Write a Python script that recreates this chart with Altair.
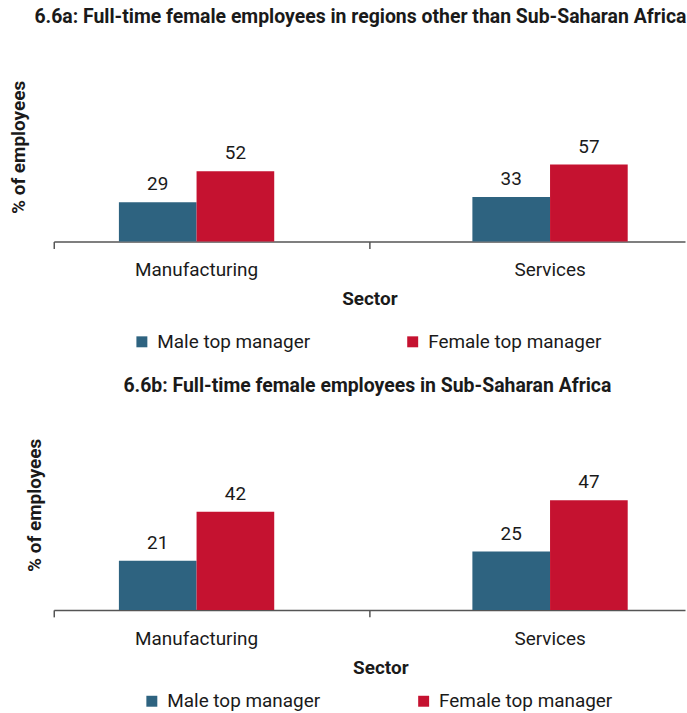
import altair as alt
import pandas as pd

# ---- data ----
sectors = ["Manufacturing", "Services"]
managers = ["Male top manager", "Female top manager"]
# order: Manufacturing-Male, Manufacturing-Female, Services-Male, Services-Female
values_a = [29, 52, 33, 57]
values_b = [21, 42, 25, 47]
colors = ["#2e6380", "#c51230"]

title_a = "6.6a: Full-time female employees in regions other than Sub-Saharan Africa"
title_b = "6.6b: Full-time female employees in Sub-Saharan Africa"
y_title = "% of employees"
x_title = "Sector"

FONT = "Roboto"
TXT = "#1a1a1a"
AXC = "#555555"
W = 634


def make_df(values):
    rows = []
    i = 0
    for s in sectors:
        for m in managers:
            rows.append({"Sector": s, "Manager": m, "Value": values[i]})
            i += 1
    return pd.DataFrame(rows)


def panel(values, title, H, ymax, title_dx, title_offset, ytitle_pad,
          lab_pad, xtitle_pad, xtitle_x, legend_x, legend_y, col_pad):
    df = make_df(values)
    base = alt.Chart(df)

    axis_kw = dict(orient="bottom", domain=False, ticks=False, tickSize=0, grid=False,
                   labelAngle=0, labelPadding=lab_pad, labelFont=FONT, labelFontSize=19,
                   labelColor=TXT, title=x_title, titleFont=FONT, titleFontSize=19,
                   titleFontWeight="bold", titleColor=TXT, titlePadding=xtitle_pad)
    if xtitle_x is not None:
        axis_kw["titleX"] = xtitle_x

    x_bars = alt.X("Sector:N", sort=sectors,
                   scale=alt.Scale(domain=sectors, paddingInner=0.5606,
                                   paddingOuter=0.1732, align=0.532),
                   axis=alt.Axis(**axis_kw))
    y = alt.Y("Value:Q", scale=alt.Scale(domain=[0, ymax], nice=False, zero=True),
              axis=alt.Axis(title=y_title, labels=False, ticks=False, domain=False,
                            grid=False, titlePadding=ytitle_pad, titleFont=FONT,
                            titleFontSize=19, titleFontWeight="bold", titleColor=TXT))
    xoff = alt.XOffset("Manager:N", sort=managers,
                       scale=alt.Scale(domain=managers, paddingInner=0, paddingOuter=0))
    color = alt.Color("Manager:N", sort=managers,
                      scale=alt.Scale(domain=managers, range=colors),
                      legend=alt.Legend(title=None, orient="none", legendX=legend_x,
                                        legendY=legend_y, direction="horizontal",
                                        columns=2, symbolType="square", symbolSize=121,
                                        symbolStrokeWidth=0, symbolOpacity=1,
                                        labelFont=FONT, labelFontSize=19, labelColor=TXT,
                                        labelOffset=6, columnPadding=col_pad, padding=0,
                                        labelLimit=0))

    bars = base.mark_bar().encode(x=x_bars, xOffset=xoff, y=y, color=color)
    labels = base.mark_text(baseline="alphabetic", dy=-12, font=FONT, fontSize=19,
                            color=TXT).encode(x=x_bars, xOffset=xoff, y=y,
                                              text=alt.Text("Value:Q"))

    # axis line with ticks at the boundaries of the two sector bands
    tick_axis = base.mark_bar(opacity=0).encode(
        x=alt.X("Sector:N", sort=sectors,
                scale=alt.Scale(domain=sectors, paddingInner=0, paddingOuter=0),
                axis=alt.Axis(orient="bottom", domain=True, domainColor=AXC,
                              domainWidth=1.5, ticks=True, tickSize=7, tickColor=AXC,
                              tickWidth=1.5, bandPosition=0, labels=False, title=None,
                              grid=False))
    )

    return alt.layer(tick_axis, alt.layer(bars, labels)).resolve_scale(
        x="independent").properties(
        width=W, height=H,
        title=alt.TitleParams(title, font=FONT, fontSize=19.5, fontWeight="bold",
                              color=TXT, anchor="middle", dx=title_dx,
                              offset=title_offset))


top = panel(values_a, title_a, H=190, ymax=140, title_dx=-9, title_offset=25,
            ytitle_pad=25, lab_pad=19, xtitle_pad=10, xtitle_x=None,
            legend_x=79, legend_y=281, col_pad=93)
bottom = panel(values_b, title_b, H=211, ymax=90, title_dx=-2, title_offset=3,
               ytitle_pad=9, lab_pad=20, xtitle_pad=10, xtitle_x=328,
               legend_x=89, legend_y=293, col_pad=94)

chart = alt.vconcat(top, bottom, spacing=159, bounds="flush").resolve_scale(
    color="independent").resolve_legend(color="independent").properties(
    padding={"left": 10, "top": 5, "right": 0, "bottom": 0},
    background="white",
).configure_view(stroke=None)

chart.save("out.html", embed_options={"renderer": "svg", "actions": False})
